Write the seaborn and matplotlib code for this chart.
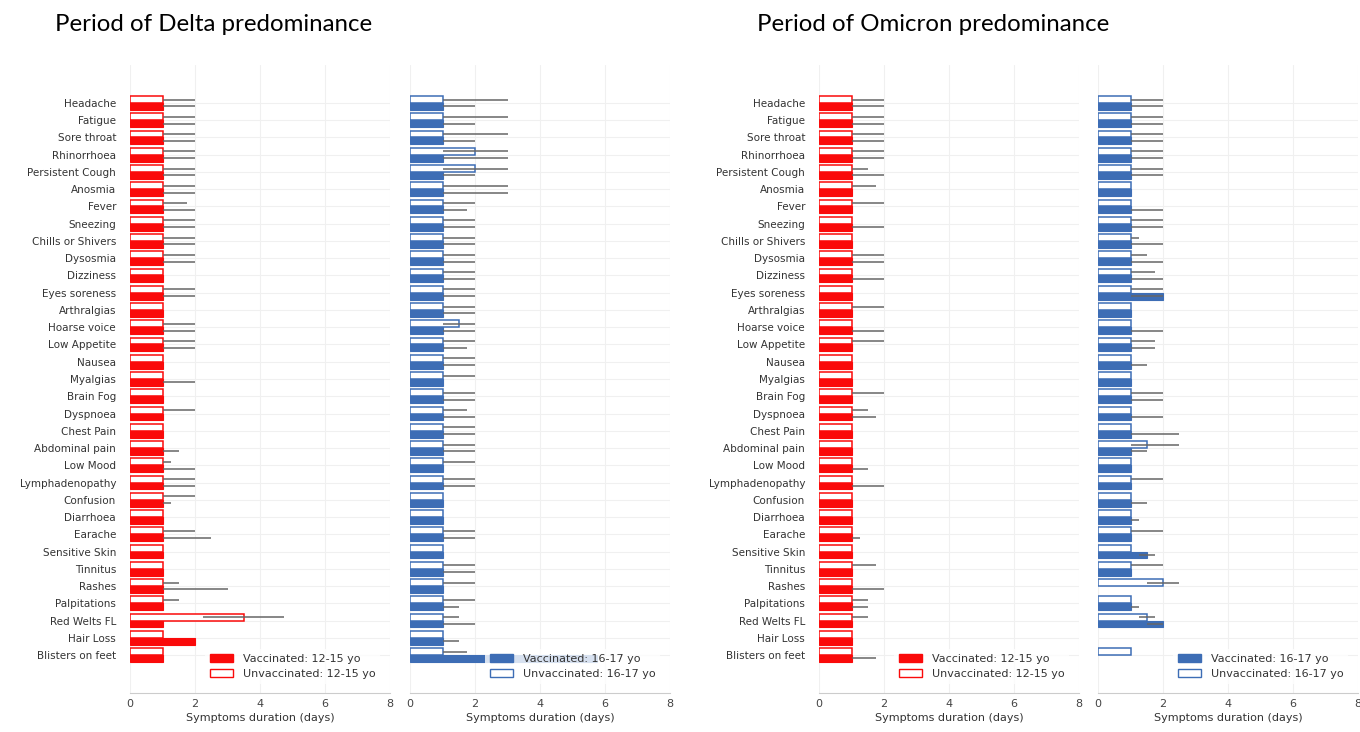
import numpy as np
import pandas as pd
import matplotlib
matplotlib.use('Agg')
import matplotlib.pyplot as plt
from matplotlib.patches import Patch
import seaborn as sns

nan = np.nan

symptoms = ['Headache', 'Fatigue', 'Sore throat', 'Rhinorrhoea', 'Persistent Cough',
            'Anosmia', 'Fever', 'Sneezing', 'Chills or Shivers', 'Dysosmia', 'Dizziness',
            'Eyes soreness', 'Arthralgias', 'Hoarse voice', 'Low Appetite', 'Nausea',
            'Myalgias', 'Brain Fog', 'Dyspnoea', 'Chest Pain', 'Abdominal pain', 'Low Mood',
            'Lymphadenopathy', 'Confusion', 'Diarrhoea', 'Earache', 'Sensitive Skin',
            'Tinnitus', 'Rashes', 'Palpitations', 'Red Welts FL', 'Hair Loss',
            'Blisters on feet']

# median / lower quartile / upper quartile (days)
# Delta, 12-15 yo
delta_young_unvax_med = [1] * 30 + [3.5, 1, 1]
delta_young_unvax_q1 = [1] * 30 + [2.25, 1, 1]
delta_young_unvax_q3 = [2, 2, 2, 2, 2, 2, 1.75, 2, 2, 2, 1, 2, 1, 2, 2, 1, 1, 1, 2, 1,
                        1, 1.25, 2, 2, 1, 2, 1, 1, 1.5, 1.5, 4.75, 1, 1]
delta_young_vax_med = [1] * 31 + [2, 1]
delta_young_vax_q1 = [1] * 31 + [2, 1]
delta_young_vax_q3 = [2, 2, 2, 2, 2, 2, 2, 2, 2, 2, 1, 2, 1, 2, 2, 1, 2, 1, 1, 1,
                      1.5, 2, 2, 1.25, 1, 2.5, 1, 1, 3, 1, 1, 2, 1]

# Delta, 16-17 yo
delta_old_unvax_med = [1, 1, 1, 2, 2, 1, 1, 1, 1, 1, 1, 1, 1, 1.5] + [1] * 19
delta_old_unvax_q1 = [1] * 33
delta_old_unvax_q3 = [3, 3, 3, 3, 3, 3, 2, 2, 2, 2, 2, 2, 2, 2, 2, 2, 2, 2, 1.75, 2,
                      2, 2, 2, 1, 1, 2, 1, 2, 2, 2, 1.5, 1, 1.75]
delta_old_vax_med = [1] * 32 + [5.75]
delta_old_vax_q1 = [1] * 32 + [5.75]
delta_old_vax_q3 = [2, 2, 2, 3, 2, 3, 1.75, 2, 2, 2, 2, 2, 2, 2, 1.75, 2, 1, 2, 2, 2,
                    2, 1, 2, 1, 1, 2, 1, 2, 1, 1.5, 2, 1.5, 5.75]

# Omicron, 12-15 yo
omi_young_unvax_med = [1] * 33
omi_young_unvax_q1 = [1] * 33
omi_young_unvax_q3 = [2, 2, 2, 2, 1.5, 1.75, 2, 1, 1, 2, 1, 1, 2, 1, 2, 1, 1, 2, 1.5, 1,
                      1, 1, 1, 1, 1, 1, 1, 1.75, 1, 1.5, 1.5, 1, 1]
omi_young_vax_med = [1] * 33
omi_young_vax_q1 = [1] * 33
omi_young_vax_q3 = [2, 2, 2, 2, 2, 1, 1, 2, 1, 2, 2, 1, 1, 2, 1, 1, 1, 1, 1.75, 1,
                    1, 1.5, 2, 1, 1, 1.25, 1, 1, 2, 1.5, 1, 1, 1.75]

# Omicron, 16-17 yo
omi_old_unvax_med = [1] * 20 + [1.5, 1, 1, 1, 1, 1, 1, 1, 2, 1, 1.5, nan, 1]
omi_old_unvax_q1 = [1] * 28 + [1.5, 1, 1.25, nan, 1]
omi_old_unvax_q3 = [2, 2, 2, 2, 2, 1, 1, 2, 1.25, 1.5, 1.75, 2, 1, 1, 1.75, 1, 1, 2, 1, 1,
                    2.5, 1, 2, 1, 1, 2, 1, 2, 2.5, 1, 1.75, nan, 1]
omi_old_vax_med = [1] * 11 + [2] + [1] * 14 + [1.5, 1, nan, 1, 2, nan, nan]
omi_old_vax_q1 = [1] * 26 + [1.25, 1, nan, 1, 1.5, nan, nan]
omi_old_vax_q3 = [2, 2, 2, 2, 2, 1, 2, 2, 2, 2, 2, 2, 1, 2, 1.75, 1.5, 1, 2, 2, 2.5,
                  1.5, 1, 1, 1.5, 1.25, 1, 1.75, 1, nan, 1.25, 2, nan, nan]

RED = '#fa0a0a'
BLUE = '#3d6db5'

panels = [
    ('12-15 yo', RED, delta_young_unvax_med, delta_young_unvax_q1, delta_young_unvax_q3,
     delta_young_vax_med, delta_young_vax_q1, delta_young_vax_q3, True),
    ('16-17 yo', BLUE, delta_old_unvax_med, delta_old_unvax_q1, delta_old_unvax_q3,
     delta_old_vax_med, delta_old_vax_q1, delta_old_vax_q3, False),
    ('12-15 yo', RED, omi_young_unvax_med, omi_young_unvax_q1, omi_young_unvax_q3,
     omi_young_vax_med, omi_young_vax_q1, omi_young_vax_q3, True),
    ('16-17 yo', BLUE, omi_old_unvax_med, omi_old_unvax_q1, omi_old_unvax_q3,
     omi_old_vax_med, omi_old_vax_q1, omi_old_vax_q3, False),
]

sns.set_style('whitegrid', {'grid.color': '#f0f0f0', 'axes.edgecolor': '#cccccc'})
plt.rcParams['font.family'] = ['DejaVu Sans']

fig = plt.figure(figsize=(13.6, 7.32), dpi=100)
lefts = [130, 410, 819, 1098]
bottom = 1 - 693 / 732
height = (693 - 65) / 732

for (age, color, u_med, u_q1, u_q3, v_med, v_q1, v_q3, show_labels), left in zip(panels, lefts):
    ax = fig.add_axes([left / 1360, bottom, 260 / 1360, height])
    df = pd.concat([
        pd.DataFrame({'symptom': symptoms, 'median': u_med, 'status': 'Unvaccinated'}),
        pd.DataFrame({'symptom': symptoms, 'median': v_med, 'status': 'Vaccinated'}),
    ]).dropna()
    sns.barplot(data=df, y='symptom', x='median', hue='status', order=symptoms,
                hue_order=['Unvaccinated', 'Vaccinated'], orient='h', width=0.8,
                palette=[color, color], saturation=1, errorbar=None, legend=False,
                ax=ax, zorder=2)
    for bar in ax.containers[0]:
        bar.set_facecolor('white')
        bar.set_edgecolor(color)
        bar.set_linewidth(1.1)
    for bar in ax.containers[1]:
        bar.set_edgecolor(color)
        bar.set_linewidth(0.8)

    # interquartile range lines
    pos = np.arange(len(symptoms))
    for med, q1, q3, off in [(u_med, u_q1, u_q3, -0.2), (v_med, v_q1, v_q3, 0.2)]:
        med = np.array(med, float)
        q1 = np.array(q1, float)
        q3 = np.array(q3, float)
        ok = ~np.isnan(med) & (q3 > q1)
        ax.errorbar(med[ok], pos[ok] + off, xerr=[med[ok] - q1[ok], q3[ok] - med[ok]],
                    fmt='none', ecolor='#666666', elinewidth=1.1, capsize=0, zorder=3)

    ax.set_xlim(0, 8)
    ax.set_ylim(34.2, -2.2)
    ax.set_xticks([0, 2, 4, 6, 8])
    ax.set_xlabel('Symptoms duration (days)', fontsize=8, color='#333333', labelpad=3)
    ax.set_ylabel('')
    ax.tick_params(axis='x', labelsize=8, colors='#444444', direction='inout',
                   length=5, width=0.8, color='#888888', pad=2)
    ax.tick_params(axis='y', length=0, labelsize=7.5, colors='#333333', pad=10)
    if not show_labels:
        ax.set_yticklabels([])
    ax.grid(True, color='#f0f0f0', linewidth=0.8)
    sns.despine(ax=ax, left=True)
    ax.spines['bottom'].set_color('#cccccc')

    handles = [Patch(facecolor=color, edgecolor=color, label=f'Vaccinated: {age}'),
               Patch(facecolor='white', edgecolor=color, label=f'Unvaccinated: {age}')]
    leg = ax.legend(handles=handles, loc='lower left', bbox_to_anchor=(0.29, 0.015),
                    fontsize=8, frameon=True, framealpha=0.8, facecolor='white',
                    edgecolor='none', handlelength=2.1, handletextpad=0.9,
                    borderaxespad=0, labelspacing=0.5)
    for t in leg.get_texts():
        t.set_color('#333333')

fig.text(55 / 1360, 1 - 31 / 732, 'Period of Delta predominance', fontsize=17.3,
         family=['Lato', 'DejaVu Sans'], color='black', va='baseline', ha='left')
fig.text(757 / 1360, 1 - 31 / 732, 'Period of Omicron predominance', fontsize=17.3,
         family=['Lato', 'DejaVu Sans'], color='black', va='baseline', ha='left')

fig.savefig('out.png', dpi=100)
